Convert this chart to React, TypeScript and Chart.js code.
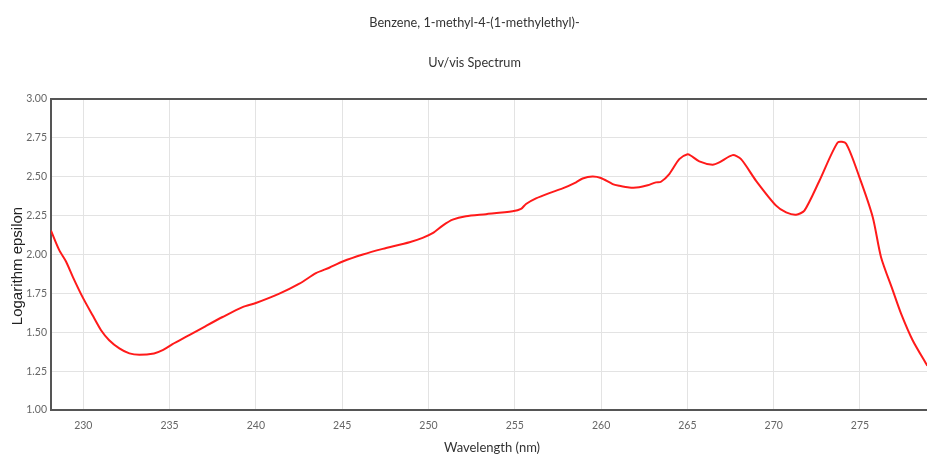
import React, { useEffect, useRef } from "react";
import { Chart, registerables } from "chart.js";

Chart.register(...registerables);

const wavelengths = [
  228.13, 228.6, 229.0, 229.4, 229.96, 230.54, 231.03, 231.5, 232.09, 232.67,
  233.25, 234.1, 234.6, 235.17, 236.14, 237.1, 238.07, 239.23, 240.0, 241.36,
  242.52, 243.48, 244.25, 245.03, 246.2, 247.35, 248.9, 249.66, 250.24, 250.82,
  251.4, 252.17, 253.33, 254.87, 255.36, 255.65, 256.23, 257.0, 257.77, 258.55,
  258.93, 259.5, 259.99, 260.67, 261.06, 261.63, 262.2, 262.7, 263.18, 263.47,
  263.95, 264.53, 265.01, 265.21, 265.69, 266.46, 266.85, 267.62, 268.11, 268.98,
  270.14, 270.72, 271.3, 271.78, 272.65, 273.71, 274.19, 274.97, 275.74, 276.22,
  276.9, 277.38, 278.05, 278.9,
];

const logEpsilon = [
  2.154, 2.03, 1.955, 1.855, 1.726, 1.609, 1.513, 1.449, 1.396, 1.364,
  1.355, 1.364, 1.385, 1.423, 1.481, 1.54, 1.598, 1.662, 1.688, 1.748,
  1.812, 1.88, 1.915, 1.955, 2.0, 2.036, 2.079, 2.107, 2.137, 2.186,
  2.224, 2.246, 2.259, 2.278, 2.293, 2.325, 2.361, 2.395, 2.425, 2.464,
  2.489, 2.502, 2.492, 2.453, 2.442, 2.431, 2.432, 2.445, 2.464, 2.468,
  2.517, 2.613, 2.645, 2.635, 2.599, 2.577, 2.592, 2.639, 2.613, 2.474,
  2.314, 2.271, 2.256, 2.282, 2.474, 2.72, 2.714, 2.496, 2.24, 1.983,
  1.769, 1.62, 1.449, 1.285,
];

const titleText = "Benzene, 1-methyl-4-(1-methylethyl)-";
const subtitleText = "Uv/vis Spectrum";
const xTitleText = "Wavelength (nm)";
const yTitleText = "Logarithm epsilon";

const xMin = 228.13;
const xMax = 279.23;
const yMin = 1;
const yMax = 3;

const frameAndTitle = {
  id: "frameAndTitle",
  beforeDatasetsDraw(chart: any) {
    const { ctx, chartArea } = chart;
    ctx.save();
    ctx.strokeStyle = "#555555";
    ctx.lineWidth = 2;
    ctx.beginPath();
    ctx.moveTo(chartArea.right, chartArea.top);
    ctx.lineTo(chartArea.left, chartArea.top);
    ctx.lineTo(chartArea.left, chartArea.bottom);
    ctx.lineTo(chartArea.right, chartArea.bottom);
    ctx.stroke();
    ctx.restore();
  },
  afterDraw(chart: any) {
    const { ctx } = chart;
    ctx.save();
    ctx.fillStyle = "#333333";
    ctx.font = "12.7px Lato, sans-serif";
    ctx.textAlign = "center";
    ctx.textBaseline = "middle";
    ctx.fillText(titleText, 474.5, 22.5);
    ctx.fillText(subtitleText, 474.5, 62.5);
    ctx.restore();

    ctx.save();
    ctx.translate(18, 266);
    ctx.rotate(-Math.PI / 2);
    ctx.fillStyle = "#222222";
    ctx.font = "15px 'Liberation Sans', Arial, sans-serif";
    ctx.textAlign = "center";
    ctx.textBaseline = "middle";
    ctx.fillText(yTitleText, 0, 0);
    ctx.restore();
  },
};

export default function App() {
  const ref = useRef<HTMLCanvasElement | null>(null);

  useEffect(() => {
    if (!ref.current) return;
    const data = wavelengths.map((w, i) => ({ x: w, y: logEpsilon[i] }));
    const chart = new Chart(ref.current, {
      type: "line",
      data: {
        datasets: [
          {
            data,
            borderColor: "#ff1a1a",
            borderWidth: 2,
            pointRadius: 0,
            tension: 0.25,
            fill: false,
          },
        ],
      },
      options: {
        animation: false,
        responsive: false,
        maintainAspectRatio: false,
        layout: { padding: { left: 0, right: 16, top: 99, bottom: 0 } },
        plugins: {
          legend: { display: false },
          tooltip: { enabled: false },
          title: { display: false },
          subtitle: { display: false },
        },
        scales: {
          x: {
            type: "linear",
            min: xMin,
            max: xMax,
            afterFit: (s: any) => {
              s.height = 48;
            },
            ticks: {
              stepSize: 5,
              includeBounds: false,
              color: "#666666",
              font: { family: "Lato", size: 10.5 },
              padding: 9,
              maxRotation: 0,
            },
            grid: { color: "#e3e3e3", lineWidth: 1, drawTicks: false },
            border: { display: false },
            title: {
              display: true,
              text: xTitleText,
              color: "#333333",
              font: { family: "Lato", size: 13 },
              padding: { top: 0, bottom: 2 },
            },
          },
          y: {
            type: "linear",
            min: yMin,
            max: yMax,
            afterFit: (s: any) => {
              s.width = 51;
            },
            ticks: {
              stepSize: 0.25,
              color: "#666666",
              font: { family: "Lato", size: 10.5 },
              padding: 4,
              callback: (v: any) => Number(v).toFixed(2),
            },
            grid: { color: "#e3e3e3", lineWidth: 1, drawTicks: false },
            border: { display: false },
          },
        },
      },
      plugins: [frameAndTitle],
    });
    return () => chart.destroy();
  }, []);

  return (
    <div style={{ position: "fixed", left: 0, top: 0, width: 927, height: 458, overflow: "hidden", background: "#fff" }}>
      <canvas ref={ref} width={949} height={458} style={{ width: 949, height: 458, display: "block" }} />
    </div>
  );
}
